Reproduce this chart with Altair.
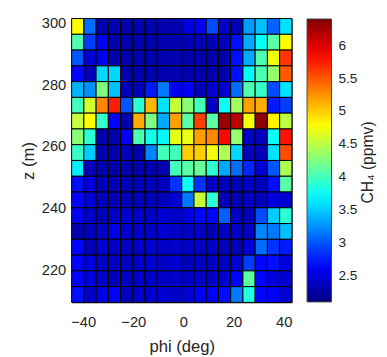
import altair as alt
import pandas as pd

# lower edges of the phi bins (deg) and their width
phi_lo = [-44.6, -39.72, -34.84, -29.96, -25.08, -20.2, -15.32, -10.44, -5.56,
          -0.68, 4.2, 9.08, 13.96, 18.84, 23.72, 28.6, 33.48, 38.36]
phi_w = 4.88
# lower edges of the z bins (m), top row first, and their height
z_lo = [296.26, 291.14, 286.03, 280.91, 275.8, 270.68, 265.57, 260.45, 255.34,
        250.22, 245.11, 239.99, 234.88, 229.76, 224.65, 219.53, 214.42, 209.3]
z_h = 5.115

# CH4 (ppmv), rows top (z~299) to bottom, columns phi left to right
ch4 = [
    [4.8, 3.1, 2.3, 2.3, 2.3, 2.3, 2.3, 2.3, 2.3, 2.5, 2.55, 2.95, 2.4, 2.35, 3.3, 3.45, 3.05, 3.6],
    [4.05, 2.9, 2.6, 2.3, 2.3, 2.3, 2.3, 2.3, 2.3, 2.35, 2.35, 2.35, 2.35, 2.7, 3.35, 3.75, 4.1, 4.8],
    [3.0, 2.45, 2.6, 2.3, 2.3, 2.3, 2.3, 2.3, 2.3, 2.3, 2.3, 2.3, 2.3, 2.7, 3.35, 4.05, 4.75, 5.65],
    [2.65, 2.35, 3.55, 3.55, 2.3, 2.3, 2.3, 2.3, 2.3, 2.3, 2.3, 2.3, 2.3, 2.7, 3.7, 4.05, 4.35, 5.5],
    [3.4, 3.25, 4.25, 3.45, 2.35, 2.35, 2.75, 3.15, 2.55, 2.6, 2.35, 2.45, 2.45, 3.1, 4.05, 3.95, 2.95, 3.6],
    [4.0, 4.6, 5.3, 5.75, 3.0, 3.9, 5.1, 3.6, 4.55, 4.3, 4.0, 2.4, 3.75, 4.4, 5.2, 5.15, 2.75, 2.9],
    [4.55, 4.8, 3.95, 2.65, 2.3, 5.15, 4.25, 3.35, 5.2, 4.1, 5.6, 4.1, 6.3, 6.15, 4.75, 6.35, 4.85, 4.5],
    [4.3, 3.9, 2.3, 2.3, 2.6, 4.05, 3.8, 3.7, 4.7, 4.7, 5.2, 5.3, 5.85, 4.35, 2.4, 2.35, 3.75, 5.8],
    [3.95, 3.5, 2.3, 2.3, 2.35, 2.3, 3.2, 4.0, 4.0, 5.0, 5.0, 4.75, 4.45, 3.55, 2.35, 2.35, 3.6, 5.55],
    [3.65, 2.35, 2.3, 2.3, 2.3, 2.3, 2.3, 2.3, 4.0, 4.1, 4.15, 3.9, 3.35, 3.1, 2.8, 2.45, 3.0, 4.45],
    [2.7, 2.5, 2.35, 2.35, 2.35, 2.35, 2.35, 2.35, 2.85, 3.75, 2.85, 2.4, 2.35, 2.35, 2.4, 2.35, 2.7, 4.1],
    [2.65, 2.45, 2.35, 2.35, 2.35, 2.35, 2.35, 2.35, 2.45, 3.15, 4.55, 3.9, 2.35, 2.35, 2.4, 2.35, 2.5, 2.45],
    [2.6, 2.4, 2.35, 2.4, 2.45, 2.4, 2.4, 2.45, 2.4, 2.5, 2.65, 2.65, 3.05, 2.4, 2.35, 2.95, 3.5, 3.9],
    [2.3, 2.35, 2.4, 2.55, 2.45, 2.4, 2.4, 2.45, 2.4, 2.4, 2.4, 2.35, 2.4, 2.4, 2.4, 3.2, 3.15, 3.45],
    [2.65, 2.35, 2.45, 2.4, 2.4, 2.4, 2.45, 2.4, 2.4, 2.4, 2.4, 2.4, 2.35, 2.35, 2.5, 3.1, 2.85, 2.75],
    [2.65, 2.5, 2.4, 2.4, 2.4, 2.4, 2.45, 2.4, 2.45, 2.35, 2.4, 2.4, 2.4, 2.45, 2.9, 2.65, 2.7, 2.5],
    [2.65, 2.5, 2.4, 2.35, 2.4, 2.4, 2.4, 2.4, 2.4, 2.4, 2.4, 2.4, 2.45, 2.65, 4.1, 2.65, 2.5, 2.45],
    [2.7, 2.4, 2.55, 2.65, 2.4, 2.4, 2.45, 2.45, 2.4, 2.45, 2.6, 2.6, 2.7, 3.15, 3.85, 2.65, 2.6, 2.45],
]

x_ticks = [-40, -20, 0, 20, 40]
y_ticks = [220, 240, 260, 280, 300]
cbar_ticks = [2.5, 3, 3.5, 4, 4.5, 5, 5.5, 6]
cmin, cmax = 2.1, 6.41
jet_pos = [0, 0.125, 0.375, 0.625, 0.875, 1]
jet_col = ["#000080", "#0000ff", "#00ffff", "#ffff00", "#ff0000", "#800000"]

rows = []
for i, zl in enumerate(z_lo):
    for j, pl in enumerate(phi_lo):
        rows.append({"phi": pl, "phi2": pl + phi_w, "z": zl, "z2": zl + z_h, "ch4": ch4[i][j]})
df = pd.DataFrame(rows)

TXT = "#262626"
FONT = "Liberation Sans"
W, H = 225, 290
CBX = 240.5  # colorbar left, relative to plot origin

xscale = alt.Scale(domain=[phi_lo[0], phi_lo[-1] + phi_w], nice=False, zero=False)
yscale = alt.Scale(domain=[z_lo[-1], z_lo[0] + z_h], nice=False, zero=False)
cscale = alt.Scale(domain=[cmin + p * (cmax - cmin) for p in jet_pos], range=jet_col,
                   interpolate="rgb", clamp=True)

heat = alt.Chart(df).mark_rect(stroke="black", strokeWidth=1).encode(
    x=alt.X("phi:Q", scale=xscale, title="phi (deg)",
            axis=alt.Axis(values=x_ticks, ticks=False, domain=False, grid=False,
                          labelPadding=13, titlePadding=9, labelFlush=False)),
    x2="phi2:Q",
    y=alt.Y("z:Q", scale=yscale, title="z (m)",
            axis=alt.Axis(values=y_ticks, ticks=False, domain=False, grid=False,
                          labelPadding=6, titlePadding=4, labelFlush=False)),
    y2="z2:Q",
    color=alt.Color("ch4:Q", scale=cscale,
                    legend=alt.Legend(orient="none", legendX=CBX, legendY=0.5,
                                      direction="vertical", title=None,
                                      gradientLength=289, gradientThickness=25,
                                      gradientStrokeColor="#444", gradientStrokeWidth=1,
                                      values=cbar_ticks, labelExpr="'' + datum.value",
                                      labelFontSize=14, labelOffset=7, labelColor=TXT,
                                      labelFont=FONT, padding=0)),
)

tick_df = pd.DataFrame({"v": cbar_ticks})
cb_ticks = alt.Chart(tick_df).mark_rule(color=TXT, strokeWidth=1).encode(
    y=alt.Y("v:Q", scale=alt.Scale(domain=[cmin, cmax], nice=False, zero=False), axis=None),
    x=alt.value(CBX + 21),
    x2=alt.value(CBX + 25),
)

title_df = pd.DataFrame({"t": ["CH\u2084 (ppmv)"]})
cb_title = alt.Chart(title_df).mark_text(angle=270, fontSize=16, font=FONT, color=TXT,
                                         align="center", baseline="middle").encode(
    text="t:N",
    x=alt.value(303),
    y=alt.value(147),
)

chart = alt.layer(heat, cb_ticks, cb_title).resolve_scale(y="independent").properties(
    width=W, height=H,
    autosize=alt.AutoSizeParams(type="none"),
    padding={"left": 65, "top": 7, "right": 379 - 65 - W, "bottom": 349 - 7 - H},
).configure_view(stroke="#555", strokeWidth=1).configure_axis(
    labelFont=FONT, titleFont=FONT, labelFontSize=15, titleFontSize=17,
    labelColor=TXT, titleColor=TXT, titleFontWeight="normal",
)

chart.save("out.html", embed_options={"renderer": "svg", "actions": False})
